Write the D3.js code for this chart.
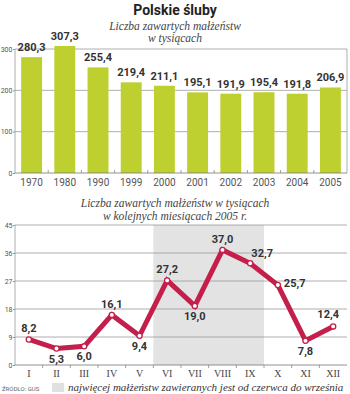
<!DOCTYPE html>
<html><head><meta charset="utf-8">
<script src="https://cdn.jsdelivr.net/npm/d3@7/dist/d3.min.js"></script>
<style>
html,body{margin:0;padding:0;background:#fff;}
svg{display:block;}
</style></head>
<body>
<script>
// ---- data ----
const years = ["1970","1980","1990","1999","2000","2001","2002","2003","2004","2005"];
const marriages = [280.3,307.3,255.4,219.4,211.1,195.1,191.9,195.4,191.8,206.9];
const yearTicks = [0,100,200,300];

const months = ["I","II","III","IV","V","VI","VII","VIII","IX","X","XI","XII"];
const monthly = [8.2,5.3,6.0,16.1,9.4,27.2,19.0,37.0,32.7,25.7,7.8,12.4];
const monthTicks = [0,9,18,27,36,45];
const peakMonths = ["VI","IX"];

// label placement per month (style only)
const monthLabelPlace = ["above","below","below","above","below","above","below","above","aboveRight","right","below","aboveLeft"];

const fmt = v => d3.format(".1f")(v).replace(".", ",");

const W = 350, H = 394;
const svg = d3.select("body").append("svg").attr("width", W).attr("height", H);

const sans = "Roboto, 'DejaVu Sans', sans-serif";
const serif = "'Liberation Serif', 'DejaVu Serif', serif";

// ---- title ----
svg.append("text").attr("x", 175).attr("y", 15).attr("text-anchor","middle")
  .style("font-family", sans).style("font-weight","bold").style("font-size","14px")
  .attr("fill","#222").text("Polskie śluby");

svg.append("text").attr("x",175).attr("y",30).attr("text-anchor","middle")
  .style("font-family", serif).style("font-style","italic").style("font-size","11.5px")
  .attr("fill","#444").text("Liczba zawartych małżeństw");
svg.append("text").attr("x",175).attr("y",42).attr("text-anchor","middle")
  .style("font-family", serif).style("font-style","italic").style("font-size","11.5px")
  .attr("fill","#444").text("w tysiącach");

// ---- bar chart ----
const bx0 = 15, bx1 = 347, byTop = 49, byBot = 173;
const xb = d3.scaleBand().domain(years).range([bx0, bx1]).paddingInner(0.37).paddingOuter(0.185);
const yb = d3.scaleLinear().domain([0,300]).range([byBot, byTop]);

const gb = svg.append("g");
gb.selectAll("line.grid").data(yearTicks.filter(t => t>0 && t<300)).join("line")
  .attr("x1", bx0).attr("x2", bx1).attr("y1", d=>yb(d)).attr("y2", d=>yb(d))
  .attr("stroke","#9a9a9a").attr("stroke-width",0.8);
gb.append("path").attr("d", `M${bx0},${byBot}V${byTop}H${bx1}V${byBot}`)
  .attr("fill","none").attr("stroke","#9a9a9a").attr("stroke-width",0.8);

gb.selectAll("rect.bar").data(years).join("rect")
  .attr("x", d=>xb(d)).attr("width", xb.bandwidth())
  .attr("y", (d,i)=>yb(marriages[i])).attr("height",(d,i)=>yb(0)-yb(marriages[i]))
  .attr("fill","#bdd030");

gb.append("line").attr("x1",bx0).attr("x2",bx1).attr("y1",byBot).attr("y2",byBot)
  .attr("stroke","#777").attr("stroke-width",0.8);

const yAxisB = d3.axisLeft(yb).tickValues(yearTicks).tickSize(2).tickPadding(0.5);
const gya = svg.append("g").attr("transform",`translate(${bx0},0)`).call(yAxisB);
gya.select(".domain").remove();
gya.selectAll("line").attr("stroke","#9a9a9a");
gya.selectAll("text").style("font-family",sans).style("font-size","7px").attr("fill","#555");

const bStep = xb.step();
gb.selectAll("line.xt").data(years.slice(1)).join("line")
  .attr("x1", d=>xb(d) - xb.paddingInner()*bStep/2).attr("x2", d=>xb(d) - xb.paddingInner()*bStep/2)
  .attr("y1", byBot).attr("y2", byBot-3).attr("stroke","#888").attr("stroke-width",0.8);

const xAxisB = d3.axisBottom(xb).tickSize(0).tickPadding(6);
const gxa = svg.append("g").attr("transform",`translate(0,${byBot})`).call(xAxisB);
gxa.select(".domain").remove();
gxa.selectAll("text").style("font-family",sans).style("font-size","10px").attr("fill","#555");

gb.selectAll("text.val").data(years).join("text")
  .attr("x", d=>xb(d)+xb.bandwidth()/2).attr("y",(d,i)=>yb(marriages[i])-6)
  .attr("text-anchor","middle").style("font-family",sans).style("font-weight","bold")
  .style("font-size","11px").attr("fill","#333").text((d,i)=>fmt(marriages[i]));

// ---- line chart ----
svg.append("text").attr("x",175).attr("y",207).attr("text-anchor","middle")
  .style("font-family", serif).style("font-style","italic").style("font-size","11.5px")
  .attr("fill","#444").text("Liczba zawartych małżeństw w tysiącach");
svg.append("text").attr("x",175).attr("y",220).attr("text-anchor","middle")
  .style("font-family", serif).style("font-style","italic").style("font-size","11.5px")
  .attr("fill","#444").text("w kolejnych miesiącach 2005 r.");

const lx0 = 15, lx1 = 347, lyTop = 225, lyBot = 365;
const xm = d3.scaleBand().domain(months).range([lx0, lx1]);
const ym = d3.scaleLinear().domain([0,45]).range([lyBot, lyTop]);

const gl = svg.append("g");
gl.append("rect").attr("x", xm(peakMonths[0])).attr("width", xm(peakMonths[1]) + xm.bandwidth() - xm(peakMonths[0]))
  .attr("y", lyTop).attr("height", lyBot-lyTop).attr("fill","#e3e3e3");

gl.selectAll("line.grid").data(monthTicks.filter(t=>t>0)).join("line")
  .attr("x1", lx0).attr("x2", lx1).attr("y1", d=>ym(d)).attr("y2", d=>ym(d))
  .attr("stroke","#9a9a9a").attr("stroke-width",0.8);
gl.append("line").attr("x1",lx0).attr("x2",lx0).attr("y1",lyTop).attr("y2",lyBot)
  .attr("stroke","#9a9a9a").attr("stroke-width",0.8);
gl.append("line").attr("x1",lx0).attr("x2",lx1).attr("y1",lyBot).attr("y2",lyBot)
  .attr("stroke","#777").attr("stroke-width",0.8);
gl.selectAll("line.xt").data(months.slice(1)).join("line")
  .attr("x1", d=>xm(d)).attr("x2", d=>xm(d)).attr("y1", lyBot).attr("y2", lyBot+3)
  .attr("stroke","#888").attr("stroke-width",0.8);

const yAxisM = d3.axisLeft(ym).tickValues(monthTicks).tickSize(2).tickPadding(0.5);
const gym = svg.append("g").attr("transform",`translate(${lx0},0)`).call(yAxisM);
gym.select(".domain").remove();
gym.selectAll("line").attr("stroke","#9a9a9a");
gym.selectAll("text").style("font-family",sans).style("font-size","7px").attr("fill","#555");

const xAxisM = d3.axisBottom(xm).tickSize(0).tickPadding(5);
const gxm = svg.append("g").attr("transform",`translate(0,${lyBot})`).call(xAxisM);
gxm.select(".domain").remove();
gxm.selectAll("text").style("font-family",serif).style("font-size","10px").attr("fill","#444");

const cx = d => xm(d) + xm.bandwidth()/2;
const line = d3.line().x((d,i)=>cx(months[i])).y(d=>ym(d));
gl.append("path").datum(monthly).attr("d", line).attr("fill","none")
  .attr("stroke","#c41f4b").attr("stroke-width",5).attr("stroke-linejoin","miter");
gl.selectAll("circle").data(monthly).join("circle")
  .attr("cx",(d,i)=>cx(months[i])).attr("cy",d=>ym(d)).attr("r",2.6)
  .attr("fill","#fff").attr("stroke","#c41f4b").attr("stroke-width",1.3);

const place = {
  above: {dx:0, dy:-7, a:"middle"},
  below: {dx:0, dy:14, a:"middle"},
  aboveRight: {dx:12, dy:-6, a:"middle"},
  right: {dx:6, dy:2, a:"start"},
  aboveLeft: {dx:-5, dy:-8, a:"middle"}
};
gl.selectAll("text.val").data(monthly).join("text")
  .attr("x",(d,i)=>cx(months[i]) + place[monthLabelPlace[i]].dx)
  .attr("y",(d,i)=>ym(d) + place[monthLabelPlace[i]].dy)
  .attr("text-anchor",(d,i)=>place[monthLabelPlace[i]].a)
  .style("font-family",sans).style("font-weight","bold").style("font-size","11px")
  .attr("fill","#333").text(d=>fmt(d));

// footer
svg.append("text").attr("x",2).attr("y",391).style("font-family",sans).style("font-size","6px")
  .attr("fill","#666").text("ŹRÓDŁO: GUS");
svg.append("rect").attr("x",52).attr("y",383).attr("width",12).attr("height",9).attr("fill","#e0e0e0");
svg.append("text").attr("x",68).attr("y",391).style("font-family",serif).style("font-style","italic")
  .style("font-size","11px").attr("fill","#333").text("najwięcej małżeństw zawieranych jest od czerwca do września");
</script>
</body></html>
